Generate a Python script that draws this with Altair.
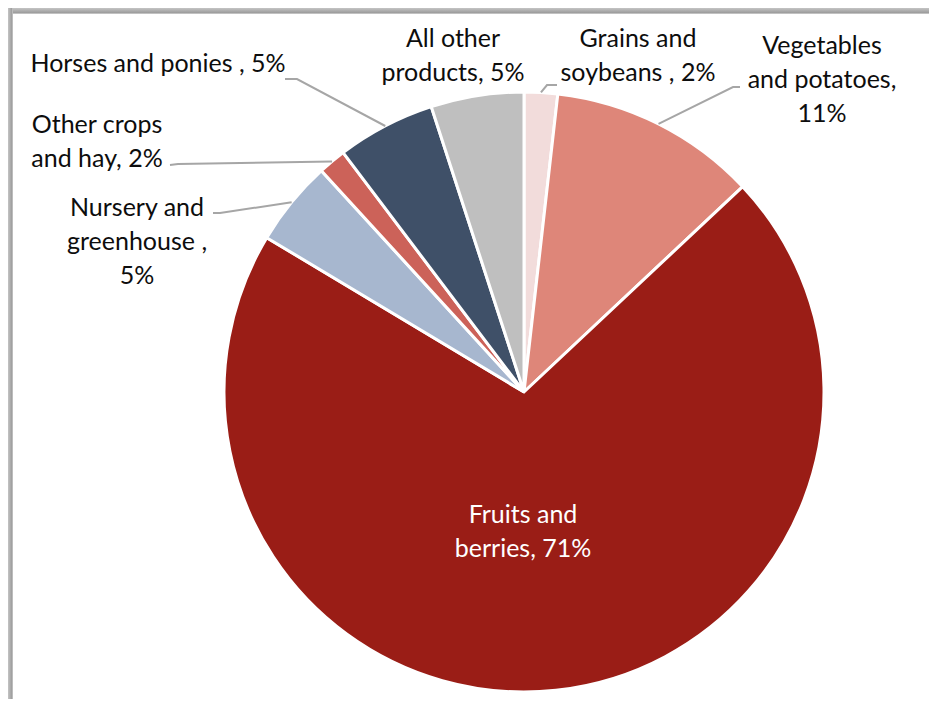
import math
import altair as alt
import pandas as pd

# ---- data ----
categories = ["Grains and soybeans", "Vegetables and potatoes", "Fruits and berries",
              "Nursery and greenhouse", "Other crops and hay", "Horses and ponies",
              "All other products"]
shares = [1.8, 11.2, 70.6, 4.6, 1.5, 5.3, 5.0]
label_text = ["Grains and\nsoybeans , 2%", "Vegetables\nand potatoes,\n11%",
              "Fruits and\nberries, 71%", "Nursery and\ngreenhouse ,\n5%",
              "Other crops\nand hay, 2%", "Horses and ponies , 5%",
              "All other\nproducts, 5%"]
colors = ["#F2DCDB", "#DE8679", "#9A1D16", "#A7B7CF", "#CC6259", "#3F5068", "#BFBFBF"]

# ---- layout ----
M = 8
W, H = 937 - 2 * M, 707 - 2 * M
CX, CY = 524 - M, 392 - M
R = 300
# centre of the first line of each label (picture pixels)
label_pos = [(638, 39), (822, 46), (523, 515), (137, 208), (97, 125), (158, 64), (453, 39)]
elbow_pos = [(547, 85), (733, 87), None, (220, 213), (178, 164), (297, 79), None]
end_pos = [(557, 85), (740, 87), None, (213, 213), (170, 165), (285, 79), None]
inside = [False, False, True, False, False, False, False]

total = sum(shares)
pie = pd.DataFrame({"cat": categories, "share": shares, "k": list(range(len(categories)))})

# leader lines: start on the arc at each slice's mid-angle
rows = []
cum = 0.0
for i, s in enumerate(shares):
    mid = (cum + s / 2) / total * 2 * math.pi
    cum += s
    if elbow_pos[i] is None:
        continue
    sx = CX + R * math.sin(mid)
    sy = CY - R * math.cos(mid)
    pts = [(sx, sy), (elbow_pos[i][0] - M, elbow_pos[i][1] - M), (end_pos[i][0] - M, end_pos[i][1] - M)]
    for j, (px, py) in enumerate(pts):
        rows.append({"cat": categories[i], "j": j, "px": px, "py": py})
lines = pd.DataFrame(rows)

labels = pd.DataFrame({
    "cat": categories,
    "txt": label_text,
    "px": [p[0] - M for p in label_pos],
    "py": [p[1] - M for p in label_pos],
    "col": ["#ffffff" if f else "#0d0d0d" for f in inside],
})

xs = alt.Scale(domain=[0, W], range=[0, W], nice=False, zero=False)
ys = alt.Scale(domain=[0, H], range=[0, H], nice=False, zero=False)

arcs = alt.Chart(pie).mark_arc(outerRadius=R, stroke="white", strokeWidth=3).encode(
    theta=alt.Theta("share:Q", stack=True),
    order=alt.Order("k:Q", sort="ascending"),
    color=alt.Color("cat:N", scale=alt.Scale(domain=categories, range=colors), legend=None),
    x=alt.value(CX),
    y=alt.value(CY),
)

leaders = alt.Chart(lines).mark_line(color="#A6A6A6", strokeWidth=2).encode(
    x=alt.X("px:Q", scale=xs, axis=None),
    y=alt.Y("py:Q", scale=ys, axis=None),
    detail="cat:N",
    order="j:Q",
)

texts = alt.Chart(labels).mark_text(
    font="Lato", fontSize=25, lineBreak="\n", lineHeight=34,
    align="center", baseline="middle",
).encode(
    x=alt.X("px:Q", scale=xs, axis=None),
    y=alt.Y("py:Q", scale=ys, axis=None),
    text="txt:N",
    color=alt.Color("col:N", scale=None),
)

one = alt.Data(values=[{"a": 1}])
top_band = alt.Chart(one).mark_rect(
    fill=alt.Gradient(gradient="linear", x1=0, x2=0, y1=0, y2=1,
                      stops=[alt.GradientStop(offset=0, color="#c4c4c4"),
                             alt.GradientStop(offset=0.8, color="#9c9c9c"),
                             alt.GradientStop(offset=1, color="#dcdcdc")])
).encode(x=alt.value(0), x2=alt.value(W), y=alt.value(0), y2=alt.value(6))
left_band = alt.Chart(one).mark_rect(
    fill=alt.Gradient(gradient="linear", x1=0, x2=1, y1=0, y2=0,
                      stops=[alt.GradientStop(offset=0, color="#c4c4c4"),
                             alt.GradientStop(offset=0.8, color="#9c9c9c"),
                             alt.GradientStop(offset=1, color="#dcdcdc")])
).encode(x=alt.value(0), x2=alt.value(5), y=alt.value(0), y2=alt.value(H))

chart = alt.layer(arcs, leaders, texts, top_band, left_band).properties(
    width=W, height=H, padding=0,
    autosize=alt.AutoSizeParams(type="none"),
    background="white",
).configure_view(stroke=None)

chart.save("out.html", embed_options={"renderer": "svg", "actions": False})
